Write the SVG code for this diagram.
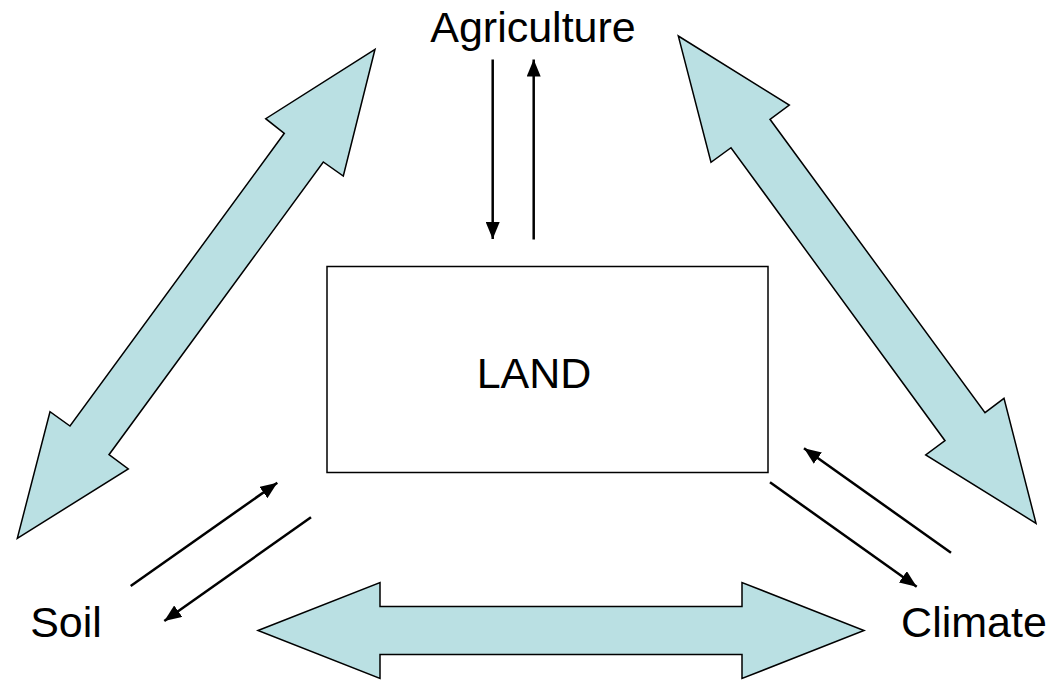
<svg xmlns="http://www.w3.org/2000/svg" width="1053" height="681" viewBox="0 0 1053 681">
<defs>
<style>
.big{fill:#BAE0E3;stroke:#000;stroke-width:1.5;stroke-linejoin:miter}
.lbl{font-family:"Liberation Sans",Arial,sans-serif;font-size:43px;fill:#000;text-anchor:middle}
.ln{stroke:#000;stroke-width:2.5;fill:none;marker-end:url(#ah)}
</style>
<marker id="ah" markerUnits="userSpaceOnUse" markerWidth="17" markerHeight="14" viewBox="0 0 17 14" refX="17" refY="7" orient="auto">
<path d="M0,0 L17,7 L0,14 z" fill="#000"/>
</marker>
</defs>
<rect width="1053" height="681" fill="#fff"/>
<g id="land">
<rect x="327" y="266.5" width="441" height="206" fill="#fff" stroke="#000" stroke-width="1.5"/>
<text class="lbl" x="534" y="388">LAND</text>
</g>
<g id="agriculture"><text class="lbl" x="533" y="42">Agriculture</text></g>
<g id="soil"><text class="lbl" x="66" y="637">Soil</text></g>
<g id="climate"><text class="lbl" x="974" y="637">Climate</text></g>
<g id="connectors">
<polygon class="big" points="375,49.3 343.3,176 323.3,162 109,454.7 128.3,469 17.3,538.3 50,411.7 70,426 284.3,133.3 265.7,118.7"/>
<polygon class="big" points="678.3,36 789.3,105 770,119.3 985,412.7 1004,398.3 1036,523.3 925.7,455 945,440.7 731,147.7 711,162.3"/>
<polygon class="big" points="258,630.5 380,582.5 380,606.5 742,606.5 742,582.5 864,630.5 742,678.5 742,654.5 380,654.5 380,678.5"/>
<line class="ln" x1="492.7" y1="59.5" x2="492.7" y2="239"/>
<line class="ln" x1="533.7" y1="239.5" x2="533.7" y2="59.5"/>
<line class="ln" x1="130.7" y1="586" x2="277.3" y2="482.7"/>
<line class="ln" x1="311" y1="517.3" x2="164.3" y2="621"/>
<line class="ln" x1="951" y1="552.7" x2="804" y2="448.3"/>
<line class="ln" x1="770" y1="482.3" x2="916.7" y2="586.7"/>
</g>
</svg>
